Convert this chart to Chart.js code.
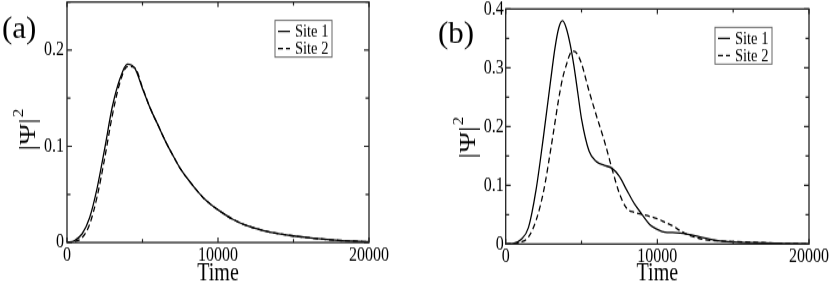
<!DOCTYPE html>
<html>
<head>
<meta charset="utf-8">
<script src="https://cdn.jsdelivr.net/npm/chart.js@4.4.0/dist/chart.umd.min.js"></script>
<style>
  html, body { margin: 0; padding: 0; background: #fff; }
  #wrap { position: relative; width: 830px; height: 284px; }
  canvas { position: absolute; top: 0; }
</style>
</head>
<body>
<div id="wrap">
  <!-- the source figure is stretched vertically, so the canvases are too -->
  <canvas id="chart_a" width="415" height="232" style="left:0;width:415px;height:284px"></canvas>
  <canvas id="chart_b" width="415" height="232" style="left:415px;width:415px;height:284px"></canvas>
</div>
<script>
'use strict';
// panel (a)
var timeA = [0, 500, 1000, 1500, 2000, 2500, 3000, 3500, 4000, 4500, 5000, 5500, 6000, 6500, 7000,
    7500, 8000, 8500, 9000, 9500, 10000, 11000, 12000, 13000, 14000, 15000, 16000, 17000, 18000, 19000, 20000];
var site1A = [0, 0.002, 0.009, 0.026, 0.057, 0.098, 0.141, 0.170, 0.1855, 0.181, 0.160, 0.140, 0.123, 0.106, 0.091,
    0.077, 0.066, 0.056, 0.047, 0.040, 0.034, 0.024, 0.017, 0.0125, 0.0093, 0.0068, 0.005, 0.0034, 0.0022, 0.0014, 0.0008];
var site2A = [0, 0.001, 0.005, 0.019, 0.048, 0.088, 0.132, 0.166, 0.183, 0.1815, 0.161, 0.140, 0.123, 0.106, 0.091,
    0.077, 0.066, 0.056, 0.047, 0.040, 0.034, 0.024, 0.017, 0.0125, 0.0093, 0.0068, 0.005, 0.0034, 0.0022, 0.0014, 0.0008];

// panel (b)
var timeB = [0, 500, 1000, 1500, 2000, 2500, 3000, 3250, 3500, 3750, 4000, 4250, 4500, 4750, 5000, 5500, 6000,
    6500, 7000, 7500, 8000, 8500, 9000, 9500, 10000, 10500, 11000, 11500, 12000, 12500, 13000,
    14000, 15000, 16000, 17000, 18000, 19000, 20000];
var site1B = [0, 0.001, 0.0075, 0.028, 0.092, 0.185, 0.286, 0.334, 0.368, 0.380, 0.367, 0.340, 0.303, 0.258, 0.213, 0.158, 0.140,
    0.134, 0.129, 0.115, 0.091, 0.068, 0.050, 0.033, 0.025, 0.020, 0.0195, 0.0185, 0.0165, 0.014, 0.011,
    0.0058, 0.0035, 0.0025, 0.0018, 0.0013, 0.0008, 0.0004];
var site2B = [0, 0.0005, 0.003, 0.012, 0.040, 0.090, 0.166, 0.207, 0.248, 0.282, 0.305, 0.324, 0.328, 0.322, 0.307, 0.260, 0.217,
    0.176, 0.129, 0.086, 0.060, 0.054, 0.0505, 0.047, 0.043, 0.037, 0.031, 0.023, 0.016, 0.0115, 0.008,
    0.0055, 0.0042, 0.0032, 0.0022, 0.0013, 0.0008, 0.0004];

var seriesLabels = ['Site 1', 'Site 2'];
var xTickStep = 10000;
var serif = "'Liberation Serif', 'Times New Roman', serif";
var STRETCH = 284 / 232;   // css height / canvas height

function toPoints(times, values) {
    return times.map((t, i) => ({ x: t, y: values[i] }));
}

// frame, inward ticks on all sides, legend box, y title and panel letter
var framePlugin = {
    id: 'frame',
    afterDraw(chart, args, opts) {
        const ctx = chart.ctx;
        const a = chart.chartArea;
        const xs = chart.scales.x;
        const ys = chart.scales.y;
        ctx.save();
        ctx.strokeStyle = '#222';
        ctx.lineWidth = 1.3;
        ctx.strokeRect(a.left, a.top, a.right - a.left, a.bottom - a.top);

        ctx.lineWidth = 1.2;
        ctx.beginPath();
        for (let i = 0; i * opts.xMinor <= xs.max + 1e-6; i++) {
            const px = xs.getPixelForValue(i * opts.xMinor);
            const len = (i % 2 === 0 ? 5 : 3.5) / STRETCH;
            ctx.moveTo(px, a.bottom); ctx.lineTo(px, a.bottom - len);
            ctx.moveTo(px, a.top); ctx.lineTo(px, a.top + len);
        }
        for (let i = 0; i * opts.yMinor <= ys.max + 1e-9; i++) {
            const py = ys.getPixelForValue(i * opts.yMinor);
            const len = i % 2 === 0 ? 5 : 3.5;
            ctx.moveTo(a.left, py); ctx.lineTo(a.left + len, py);
            ctx.moveTo(a.right, py); ctx.lineTo(a.right - len, py);
        }
        ctx.stroke();

        // legend
        const bw = 57, bh = 30;
        const bx = a.right - 37 - bw;
        const by = a.top + 15;
        ctx.strokeStyle = '#666';
        ctx.lineWidth = 1;
        ctx.strokeRect(bx, by, bw, bh);
        ctx.font = '14.5px ' + serif;
        ctx.fillStyle = '#000';
        ctx.textBaseline = 'middle';
        chart.data.datasets.forEach((ds, i) => {
            const ry = by + 9 + i * 14;
            ctx.strokeStyle = '#000';
            ctx.lineWidth = 1.2;
            ctx.setLineDash(ds.borderDash || []);
            ctx.beginPath();
            ctx.moveTo(bx + 3, ry); ctx.lineTo(bx + 15, ry);
            ctx.stroke();
            ctx.setLineDash([]);
            ctx.fillText(ds.label, bx + 20, ry + 1);
        });

        // y axis title |Ψ|² with a raised 2
        ctx.save();
        ctx.textBaseline = 'alphabetic';
        ctx.textAlign = 'left';
        ctx.font = '23px ' + serif;
        const body = '|Ψ|';
        const wBody = ctx.measureText(body).width;
        ctx.font = '14px ' + serif;
        const wSup = ctx.measureText('2').width;
        const cy = opts.titleY / STRETCH;
        ctx.translate(opts.titleX, cy + (wBody + wSup + 1) / 2);
        ctx.rotate(-Math.PI / 2);
        ctx.font = '23px ' + serif;
        ctx.fillText(body, 0, 0);
        ctx.font = '14px ' + serif;
        ctx.fillText('2', wBody + 1, -12.5);
        ctx.restore();

        // panel letter, kept unstretched
        ctx.scale(1, 1 / STRETCH);
        ctx.font = '31px ' + serif;
        ctx.textBaseline = 'alphabetic';
        ctx.fillText(opts.letter, opts.letterX, opts.letterY);
        ctx.restore();
    }
};

function makeChart(id, times, s1, s2, geo) {
    const top = geo.top / STRETCH;
    const bottom = geo.bottom / STRETCH;
    const config = {
        type: 'line',
        data: {
            datasets: [
                {
                    label: seriesLabels[0],
                    data: toPoints(times, s1),
                    borderColor: '#000',
                    borderWidth: 1.3,
                    pointRadius: 0,
                    fill: false,
                    cubicInterpolationMode: 'monotone'
                },
                {
                    label: seriesLabels[1],
                    data: toPoints(times, s2),
                    borderColor: '#000',
                    borderWidth: 1.3,
                    borderDash: [5, 3],
                    pointRadius: 0,
                    fill: false,
                    cubicInterpolationMode: 'monotone'
                }
            ]
        },
        options: {
            responsive: false,
            animation: false,
            devicePixelRatio: 1,
            layout: { padding: { left: 0, top: top, right: geo.padRight, bottom: 0 } },
            plugins: {
                legend: { display: false },
                tooltip: { enabled: false },
                frame: {
                    letter: geo.letter, letterX: geo.letterX, letterY: geo.letterY,
                    titleX: geo.titleX, titleY: geo.titleY,
                    xMinor: xTickStep / 2, yMinor: geo.yStep / 2
                }
            },
            scales: {
                x: {
                    type: 'linear',
                    min: 0,
                    max: 20000,
                    border: { display: false },
                    grid: { display: false, drawTicks: false },
                    ticks: {
                        stepSize: xTickStep,
                        padding: 1,
                        color: '#000',
                        font: { family: serif, size: 16 },
                        maxRotation: 0,
                        callback: v => String(v)
                    },
                    title: {
                        display: true,
                        text: 'Time',
                        color: '#000',
                        padding: 0,
                        font: { family: serif, size: 20, lineHeight: 0.81 }
                    },
                    afterFit: scale => {
                        scale.height = 232 - bottom;
                        scale.paddingLeft = 0;
                        scale.paddingRight = 0;
                    }
                },
                y: {
                    min: 0,
                    max: geo.yMax,
                    border: { display: false },
                    grid: { display: false, drawTicks: false },
                    ticks: {
                        stepSize: geo.yStep,
                        includeBounds: false,
                        padding: geo.yTickPad,
                        color: '#000',
                        font: { family: serif, size: 16 },
                        callback: v => (v === 0 ? '0' : v.toFixed(1))
                    },
                    afterFit: scale => {
                        scale.width = geo.left;
                        scale.paddingTop = 0;
                        scale.paddingBottom = 0;
                    }
                }
            }
        },
        plugins: [framePlugin]
    };
    return new Chart(document.getElementById(id).getContext('2d'), config);
}

makeChart('chart_a', timeA, site1A, site2A, {
    left: 67, top: 2, bottom: 242.5, padRight: 46,
    yMax: 0.25, yStep: 0.1, yTickPad: 3,
    titleX: 35, titleY: 129.5,
    letter: '(a)', letterX: 2, letterY: 38
});
makeChart('chart_b', timeB, site1B, site2B, {
    left: 90.7, top: 9, bottom: 244, padRight: 21,
    yMax: 0.4, yStep: 0.1, yTickPad: 2,
    titleX: 60, titleY: 137.5,
    letter: '(b)', letterX: 23, letterY: 43
});
</script>
</body>
</html>
